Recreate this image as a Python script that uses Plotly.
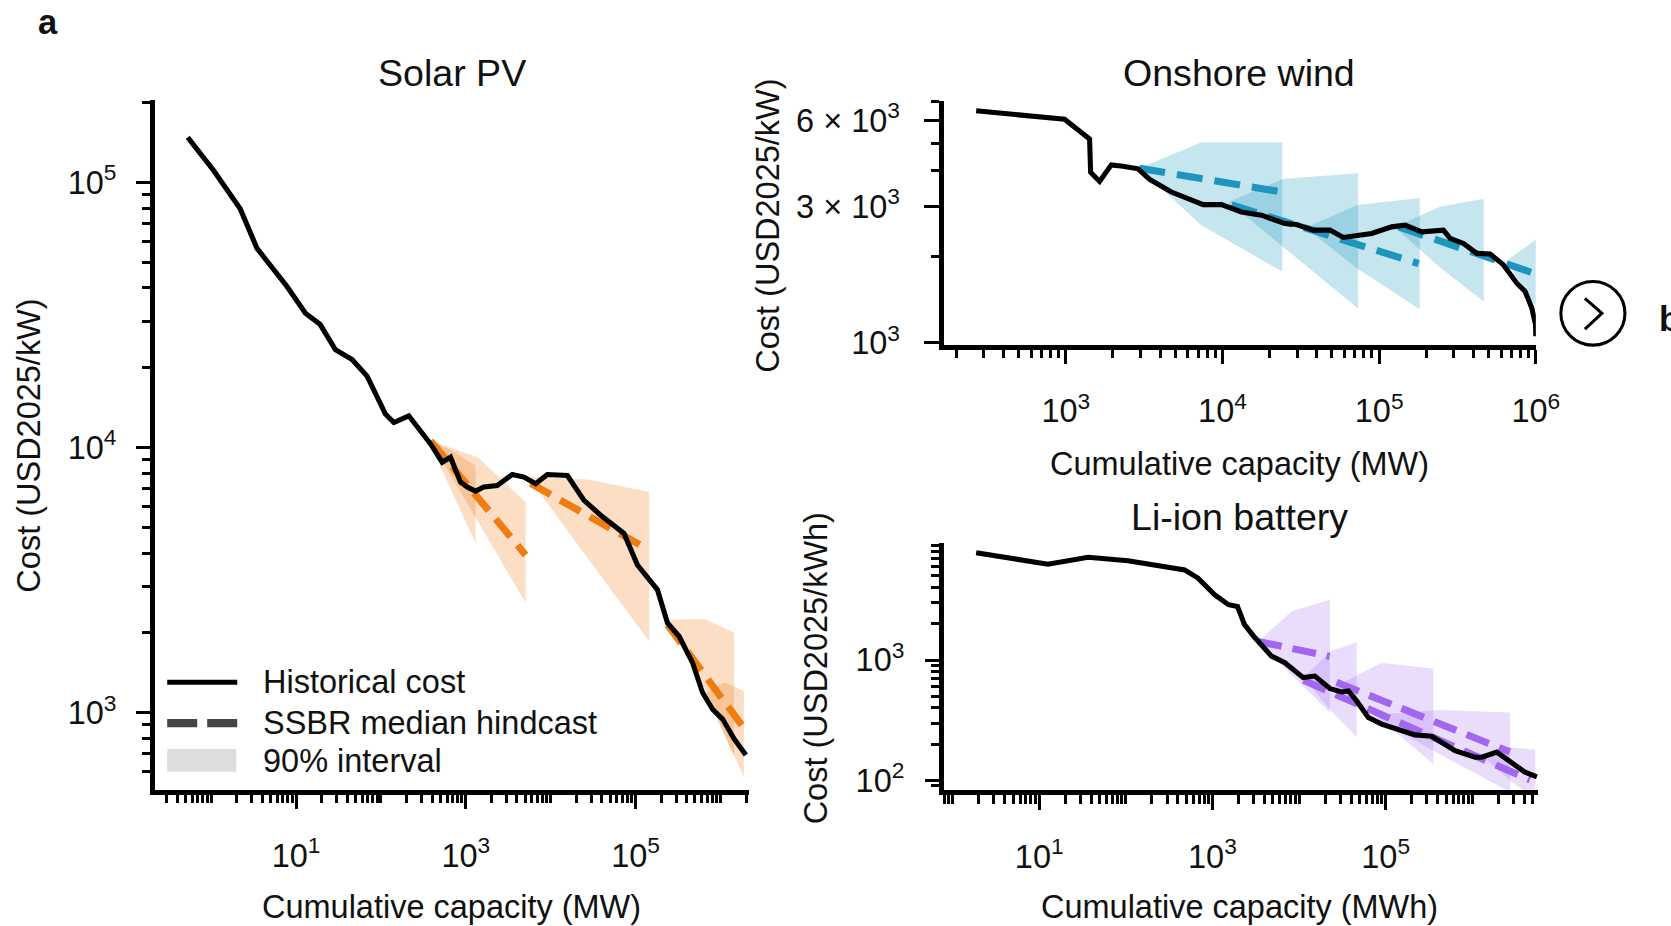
import plotly.graph_objects as go

# reference layout is measured in a 1671x926 frame; K compensates the capture scale
RW, RH = 1671, 926
K = 1.0155
W, H = round(RW * K), round(RH * K)
FONT = "Liberation Sans, Arial, Helvetica, sans-serif"

# ---------------- Solar PV ----------------
solar_x = [0.53, 1.07, 2.20, 3.47, 7.83, 12.9, 19.3, 29.1, 45.7, 68.7, 113, 142, 213, 384, 527,
           660, 866, 1039, 1301, 1631, 2344, 3524, 4830, 6640, 9120, 15700, 24650, 38730, 72900,
           105000, 180700, 237000, 325000, 467700, 613600, 805000, 1057000, 1447000, 1986000]
solar_y = [147900, 110900, 79600, 56400, 40500, 32100, 29100, 23400, 21500, 18600, 13380, 12440,
           13180, 10320, 8810, 9200, 7410, 7100, 6857, 7100, 7200, 7920, 7740, 7310, 7920, 7850,
           6330, 5560, 4746, 3610, 2910, 2183, 1944, 1545, 1193, 1032, 947, 797, 694]
solar_band_x = [[353, 678, 1301], [383, 1393, 5058], [5341, 27730, 143900],
                [226500, 653000, 1442000], [653000, 1109000, 1884000]]
solar_band_hi = [[10810, 9745, 8560], [10620, 9170, 6220], [7785, 7586, 6800],
                 [2245, 2260, 2007], [1186, 1303, 1209]]
solar_band_lo = [[10810, 6870, 4365], [10620, 5257, 2600], [7785, 3800, 1862],
                 [2245, 1240, 685], [1186, 825, 574]]
solar_med_x = [[383, 5058], [5795, 143900], [237000, 1986000]]
solar_med_y = [[10620, 3936], [7328, 4110], [2151, 856]]

# ---------------- Onshore wind ----------------
wind_x = [268, 982, 1419, 1440, 1644, 1953, 2320, 2893, 3431, 4722, 7527, 9854, 13220, 17750,
          25000, 29700, 37980, 48480, 59040, 89540, 120200, 146200, 186900, 257200, 283500,
          345100, 419800, 510500, 621700, 756000, 854500, 942800, 995000, 1000000]
wind_y = [6483, 6063, 5164, 3956, 3672, 4194, 4150, 4062, 3731, 3371, 3045, 3045, 2871, 2797,
          2615, 2594, 2480, 2480, 2337, 2413, 2546, 2581, 2446, 2480, 2319, 2227, 2056, 2046,
          1874, 1617, 1513, 1323, 1159, 1055]
wind_band_x = [[2949, 7340, 24070], [10920, 24180, 73400], [33920, 72870, 181500],
               [125600, 241700, 465300], [662000, 813700, 1000000]]
wind_band_hi = [[4084, 5030, 5030], [3111, 3741, 3925], [2530, 3037, 3212],
                [2540, 2989, 3194], [1955, 2118, 2295]]
wind_band_lo = [[4084, 2581, 1776], [3111, 2175, 1320], [2530, 1816, 1310],
                [2540, 1848, 1396], [1955, 1575, 1342]]
wind_med_x = [[2949, 24070], [11420, 178800], [133200, 985400]]
wind_med_y = [[4084, 3371], [3037, 1894], [2546, 1748]]

# ---------------- Li-ion battery ----------------
batt_x = [1.87, 12.6, 36.6, 106, 478, 683, 1063, 1531, 1946, 2344, 3085, 4808, 6855, 11180,
          15230, 22700, 30990, 37050, 46200, 63100, 89900, 153100, 218200, 340200, 632500,
          1078000, 1288000, 1919000, 2620000, 4070000, 5570000]
batt_y = [7810, 6260, 7150, 6705, 5617, 4797, 3491, 2886, 2795, 1972, 1540, 1079, 952, 715, 737,
          580, 544, 554, 458, 334, 294, 259, 239, 233, 177, 156, 156, 172, 146, 117, 107]
batt_band_x = [[3373, 8180, 22700], [11270, 22700, 46240], [25700, 89900, 356000],
               [63100, 415500, 2735000], [1288000, 2735000, 5320000]]
batt_band_hi = [[1430, 2541, 3175], [710, 1187, 1409], [600, 952, 849],
                [350, 384, 367], [161, 189, 180]]
batt_band_lo = [[1430, 753, 367], [710, 389, 228], [600, 315, 137],
                [350, 166, 80], [161, 100, 70]]
batt_med_x = [[3373, 22500], [27130, 2713000], [11270, 4620000]]
batt_med_y = [[1430, 1073], [654, 172.7], [679, 101]]

# ---------------- tick labels ----------------
solar_xticks = [10, 1e3, 1e5]
solar_xtext = ["10<sup>1</sup>", "10<sup>3</sup>", "10<sup>5</sup>"]
solar_yticks = [1e3, 1e4, 1e5]
solar_ytext = ["10<sup>3</sup>", "10<sup>4</sup>", "10<sup>5</sup>"]
wind_xticks = [1e3, 1e4, 1e5, 1e6]
wind_xtext = ["10<sup>3</sup>", "10<sup>4</sup>", "10<sup>5</sup>", "10<sup>6</sup>"]
wind_yticks = [1e3, 3e3, 6e3]
wind_ytext = ["10<sup>3</sup>", "3 × 10<sup>3</sup>", "6 × 10<sup>3</sup>"]
batt_xticks = [10, 1e3, 1e5]
batt_xtext = ["10<sup>1</sup>", "10<sup>3</sup>", "10<sup>5</sup>"]
batt_yticks = [1e2, 1e3]
batt_ytext = ["10<sup>2</sup>", "10<sup>3</sup>"]

# axis ranges (log10)
solar_xr, solar_yr = [-0.659, 6.334], [2.710, 5.309]
wind_xr, wind_yr = [2.221, 6.0], [2.992, 3.847]
batt_xr, batt_yr = [-0.098, 6.757], [1.917, 3.975]


def minor_vals(lo_exp, hi_exp, lo, hi, majors):
    vals = []
    for e in range(lo_exp, hi_exp + 1):
        for d in range(1, 10):
            v = d * 10.0 ** e
            if lo <= v <= hi and all(abs(v - m) > 1e-9 * m for m in majors):
                vals.append(v)
    return vals


def px(xp):
    return xp / RW


def py(yp):
    return 1 - yp / RH


def s(v):
    return v * K


fig = go.Figure()

panels = [
    dict(xa="x", ya="y", lx=solar_x, ly=solar_y, bx=solar_band_x, bh=solar_band_hi, bl=solar_band_lo,
         mx=solar_med_x, my=solar_med_y, col="#F07D14", fill="rgba(240,125,20,0.25)", dash="23px,11px"),
    dict(xa="x2", ya="y2", lx=wind_x, ly=wind_y, bx=wind_band_x, bh=wind_band_hi, bl=wind_band_lo,
         mx=wind_med_x, my=wind_med_y, col="#1D95BE", fill="rgba(40,160,195,0.27)", dash="26px,12px"),
    dict(xa="x3", ya="y3", lx=batt_x, ly=batt_y, bx=batt_band_x, bh=batt_band_hi, bl=batt_band_lo,
         mx=batt_med_x, my=batt_med_y, col="#A366EE", fill="rgba(160,100,240,0.22)", dash="24px,11px"),
]

for p in panels:
    for bx, bh, bl in zip(p["bx"], p["bh"], p["bl"]):
        fig.add_trace(go.Scatter(x=bx + bx[::-1], y=bh + bl[::-1], fill="toself", fillcolor=p["fill"],
                                 mode="lines", line=dict(width=0), hoverinfo="skip", showlegend=False,
                                 xaxis=p["xa"], yaxis=p["ya"]))
    for mx, my in zip(p["mx"], p["my"]):
        fig.add_trace(go.Scatter(x=mx, y=my, mode="lines",
                                 line=dict(color=p["col"], width=s(7), dash=p["dash"]),
                                 hoverinfo="skip", showlegend=False, xaxis=p["xa"], yaxis=p["ya"]))
    fig.add_trace(go.Scatter(x=p["lx"], y=p["ly"], mode="lines", line=dict(color="black", width=s(5)),
                             showlegend=False, xaxis=p["xa"], yaxis=p["ya"]))


def axis(rng, dom, anchor, tickvals, ticktext, minor, standoff):
    return dict(type="log", range=rng, domain=dom, anchor=anchor, showline=True, linewidth=s(5),
                linecolor="black", ticks="outside", ticklen=s(14), tickwidth=s(3), tickcolor="black",
                tickvals=tickvals, ticktext=ticktext, showgrid=False, zeroline=False,
                ticklabelstandoff=round(s(standoff)),
                tickfont=dict(family=FONT, size=s(32), color="#111"),
                minor=dict(ticks="outside", ticklen=s(8), tickwidth=s(3), tickcolor="black",
                           tickmode="array", tickvals=minor, showgrid=False))


fig.update_layout(
    width=W, height=H, margin=dict(l=0, r=0, t=0, b=0), autosize=False,
    paper_bgcolor="white", plot_bgcolor="white", showlegend=False,
    font=dict(family=FONT, size=s(32), color="#111"),
    xaxis=axis(solar_xr, [px(155), px(748)], "y", solar_xticks, solar_xtext,
               minor_vals(-1, 6, 0.22, 2.16e6, solar_xticks), 19),
    yaxis=axis(solar_yr, [py(791), py(98)], "x", solar_yticks, solar_ytext,
               minor_vals(2, 5, 513, 2.04e5, solar_yticks), 13),
    xaxis2=axis(wind_xr, [px(942.6), px(1534)], "y2", wind_xticks, wind_xtext,
                minor_vals(2, 5, 166, 1e6, wind_xticks), 19),
    yaxis2=axis(wind_yr, [py(344), py(98.3)], "x2", wind_yticks, wind_ytext,
                [2000, 4000, 5000, 7000], 18),
    xaxis3=axis(batt_xr, [px(943), px(1536)], "y3", batt_xticks, batt_xtext,
                minor_vals(-1, 6, 0.8, 5.7e6, batt_xticks), 19),
    yaxis3=axis(batt_yr, [py(791.7), py(542.7)], "x3", batt_yticks, batt_ytext,
                minor_vals(1, 3, 83, 9440, batt_yticks), 14),
)

ann = []


def text(t, x, y, size=32, bold=False, angle=0, xanchor="center"):
    ann.append(dict(text=f"<b>{t}</b>" if bold else t, x=px(x), y=py(y), xref="paper", yref="paper",
                    showarrow=False, xanchor=xanchor, yanchor="middle", textangle=angle,
                    font=dict(family=FONT, size=s(size), color="#111")))


text("a", 48, 19, size=34, bold=True)
text("b", 1655, 318, size=34, bold=True, xanchor="left")
text("Solar PV", 451, 70, size=37)
text("Onshore wind", 1238, 70, size=37)
text("Li-ion battery", 1238, 517, size=37)
text("Cumulative capacity (MW)", 451, 909)
text("Cumulative capacity (MW)", 1238, 464)
text("Cumulative capacity (MWh)", 1238, 909)
text("Cost (USD2025/kW)", 29, 445, angle=-90)
text("Cost (USD2025/kW)", 767, 224, angle=-90)
text("Cost (USD2025/kWh)", 815, 669, angle=-90)
text("Historical cost", 261, 683, xanchor="left")
text("SSBR median hindcast", 261, 724, xanchor="left")
text("90% interval", 261, 762, xanchor="left")

shapes = [
    dict(type="line", xref="paper", yref="paper", x0=px(167), x1=px(237), y0=py(683), y1=py(683),
         line=dict(color="black", width=s(5))),
    dict(type="line", xref="paper", yref="paper", x0=px(167), x1=px(237), y0=py(724), y1=py(724),
         line=dict(color="#444444", width=s(8), dash="30px,10px")),
    dict(type="rect", xref="paper", yref="paper", x0=px(167), x1=px(236), y0=py(773), y1=py(750),
         fillcolor="#DDDDDD", line=dict(width=0)),
    dict(type="circle", xref="paper", yref="paper", x0=px(1559), x1=px(1623), y0=py(344), y1=py(280),
         line=dict(color="black", width=s(3))),
    dict(type="path", xref="paper", yref="paper",
         path=f"M {px(1583)},{py(297)} L {px(1600)},{py(312)} L {px(1583)},{py(328)}",
         line=dict(color="black", width=s(3))),
]

fig.update_layout(annotations=ann, shapes=shapes)
fig.write_html("out.html")
